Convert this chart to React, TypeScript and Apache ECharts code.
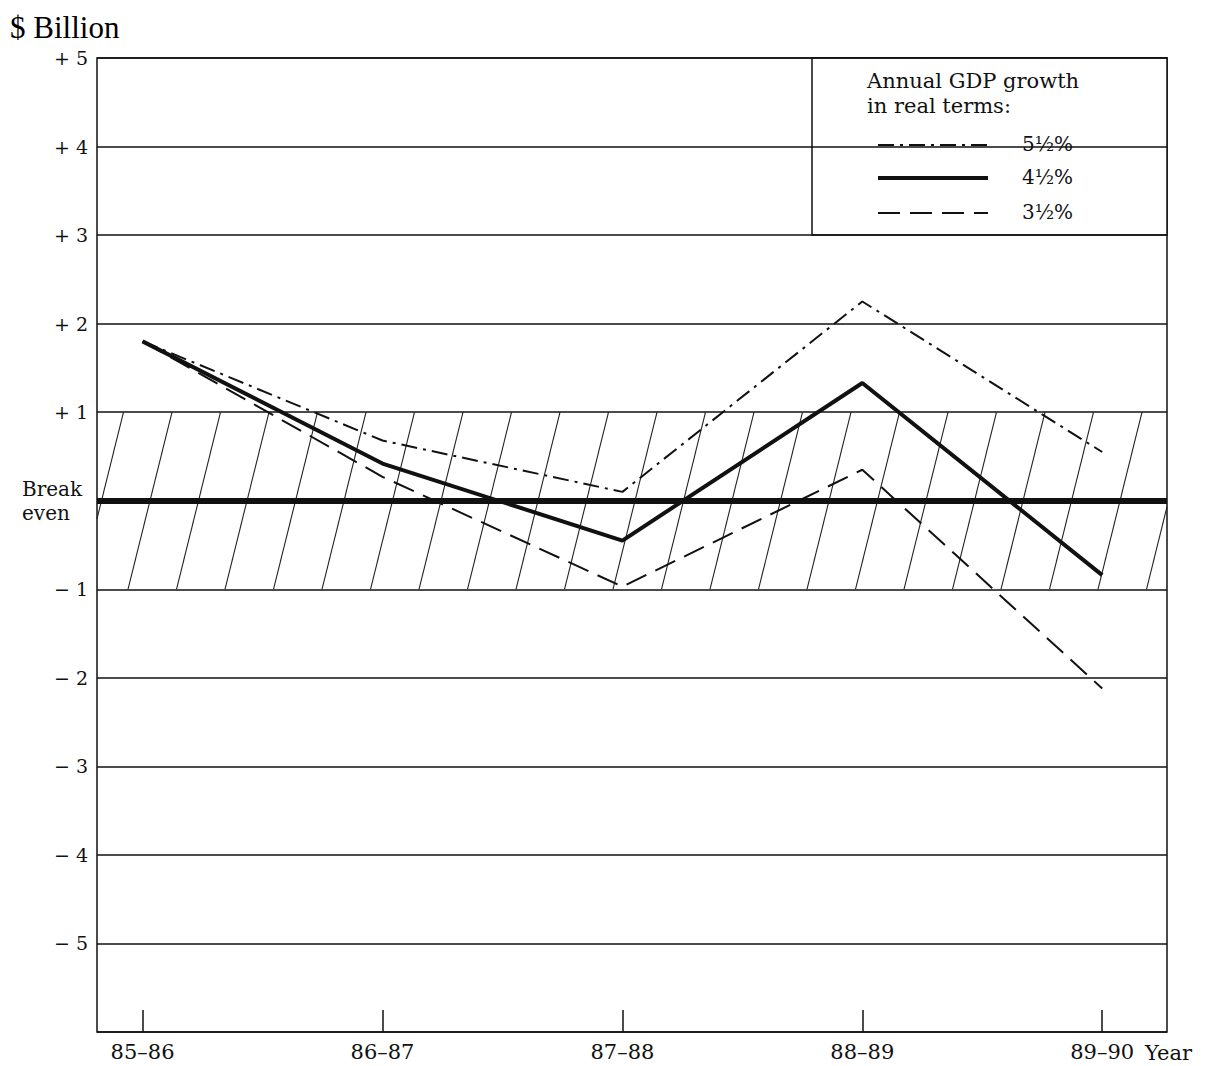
import React, { useEffect, useRef } from "react";
import * as echarts from "echarts";

// ---- data ----
const categories = ["85–86", "86–87", "87–88", "88–89", "89–90"];
const seriesNames = ["5½%", "4½%", "3½%"];
const growth55 = [1.8, 0.68, 0.1, 2.25, 0.55];
const growth45 = [1.8, 0.42, -0.45, 1.33, -0.84];
const growth35 = [1.8, 0.27, -0.97, 0.35, -2.12];
const hatchBand = [-1, 1];
const breakEven = 0;
const yMin = -6;
const yMax = 5;

const SERIF = "'DejaVu Serif', 'Liberation Serif', serif";
const INK = "#111";

const lineStyles = [
  { width: 2, type: [16, 6, 3, 6] as any },
  { width: 4, type: "solid" as any },
  { width: 2, type: [22, 10] as any },
];
const seriesValues = [growth55, growth45, growth35];

export default function App() {
  const ref = useRef<HTMLDivElement>(null);

  useEffect(() => {
    if (!ref.current) return;
    const chart = echarts.init(ref.current, null, { renderer: "svg" });

    const lineSeries = seriesValues.map((vals, si) => ({
      type: "line",
      name: seriesNames[si],
      data: vals.map((v, i) => [i, v]),
      symbol: "none",
      z: 5,
      lineStyle: { color: INK, width: lineStyles[si].width, type: lineStyles[si].type },
      ...(si === 1
        ? {
            markLine: {
              silent: true,
              symbol: "none",
              label: { show: false },
              lineStyle: { color: INK, width: 6, type: "solid" },
              data: [{ yAxis: breakEven }],
            },
          }
        : {}),
    }));

    const hatchSeries = {
      type: "custom",
      clip: false,
      silent: true,
      z: 1,
      encode: { x: 0, y: [1, 2] },
      data: [[0, hatchBand[0], hatchBand[1]]],
      renderItem: (params: any, api: any) => {
        const cs = params.coordSys;
        const yBot = api.coord([0, api.value(1)])[1];
        const yTop = api.coord([0, api.value(2)])[1];
        const L = cs.x;
        const R = cs.x + cs.width;
        const dx = 44;
        const step = 48.5;
        const children: any[] = [];
        for (let b = L + 31 - step * 2; b < R; b += step) {
          const t0 = Math.max(0, (L - b) / dx);
          const t1 = Math.min(1, (R - b) / dx);
          if (t1 <= t0) continue;
          children.push({
            type: "line",
            shape: {
              x1: b + t0 * dx,
              y1: yBot + (yTop - yBot) * t0,
              x2: b + t1 * dx,
              y2: yBot + (yTop - yBot) * t1,
            },
            style: { stroke: "#222", lineWidth: 1.1 },
          });
        }
        return { type: "group", children };
      },
    };

    const legendX = 812;
    const legendY = 58;
    const legendW = 355;
    const legendH = 177;
    const rowY = [145, 178, 213];

    const legendChildren: any[] = [
      {
        type: "rect",
        shape: { x: legendX, y: legendY, width: legendW, height: legendH },
        style: { fill: "#fff", stroke: INK, lineWidth: 1.5 },
      },
      {
        type: "text",
        x: 867,
        y: 93,
        style: {
          text: "Annual GDP growth\nin real terms:",
          fontFamily: SERIF,
          fontSize: 21,
          lineHeight: 25,
          fill: INK,
          align: "left",
          verticalAlign: "middle",
        },
      },
    ];
    seriesNames.forEach((name, i) => {
      const ls = lineStyles[i];
      legendChildren.push({
        type: "line",
        shape: { x1: 878, y1: rowY[i], x2: 988, y2: rowY[i] },
        style: {
          stroke: INK,
          lineWidth: ls.width,
          lineDash: Array.isArray(ls.type) ? ls.type : null,
        },
      });
      legendChildren.push({
        type: "text",
        x: 1022,
        y: rowY[i] - 1,
        style: { text: name, fontFamily: SERIF, fontSize: 20, fill: INK, align: "left", verticalAlign: "middle" },
      });
    });

    chart.setOption({
      animation: false,
      backgroundColor: "#fff",
      grid: {
        left: 97,
        right: 46,
        top: 58,
        bottom: 34,
        show: true,
        borderColor: INK,
        borderWidth: 1.5,
        backgroundColor: "transparent",
      },
      xAxis: {
        type: "value",
        min: -0.19,
        max: 4.27,
        splitLine: { show: false },
        axisLine: { show: false, onZero: false },
        axisTick: {
          show: true,
          inside: true,
          length: 22,
          customValues: categories.map((_, i) => i),
          lineStyle: { color: INK, width: 1.5 },
        },
        axisLabel: {
          customValues: categories.map((_, i) => i),
          formatter: (v: number) => categories[Math.round(v)] ?? "",
          fontFamily: SERIF,
          fontSize: 21,
          color: INK,
          margin: 9,
        },
      },
      yAxis: {
        type: "value",
        min: yMin,
        max: yMax,
        interval: 1,
        axisLine: { show: false },
        axisTick: { show: false },
        splitLine: { show: true, lineStyle: { color: INK, width: 1.5 } },
        axisLabel: {
          formatter: (v: number) => (v === 0 || v === yMin ? "" : v > 0 ? "+ " + v : "− " + Math.abs(v)),
          fontFamily: SERIF,
          fontSize: 19,
          color: INK,
          margin: 9,
        },
      },
      graphic: [
        {
          type: "text",
          x: 10,
          y: 27,
          style: { text: "$ Billion", fontFamily: "'Liberation Serif', serif", fontSize: 31, fill: "#000", align: "left", verticalAlign: "middle" },
        },
        {
          type: "text",
          x: 22,
          y: 489,
          style: { text: "Break", fontFamily: SERIF, fontSize: 20, fill: INK, align: "left", verticalAlign: "middle" },
        },
        {
          type: "text",
          x: 22,
          y: 513,
          style: { text: "even", fontFamily: SERIF, fontSize: 20, fill: INK, align: "left", verticalAlign: "middle" },
        },
        {
          type: "text",
          x: 1145,
          y: 1053,
          style: { text: "Year", fontFamily: SERIF, fontSize: 21, fill: INK, align: "left", verticalAlign: "middle" },
        },
        { type: "group", z: 100, children: legendChildren },
      ],
      series: [hatchSeries, ...lineSeries],
    });

    return () => chart.dispose();
  }, []);

  return (
    <div
      ref={ref}
      style={{ position: "fixed", left: 0, top: 0, width: 1213, height: 1066, background: "#fff" }}
    />
  );
}
